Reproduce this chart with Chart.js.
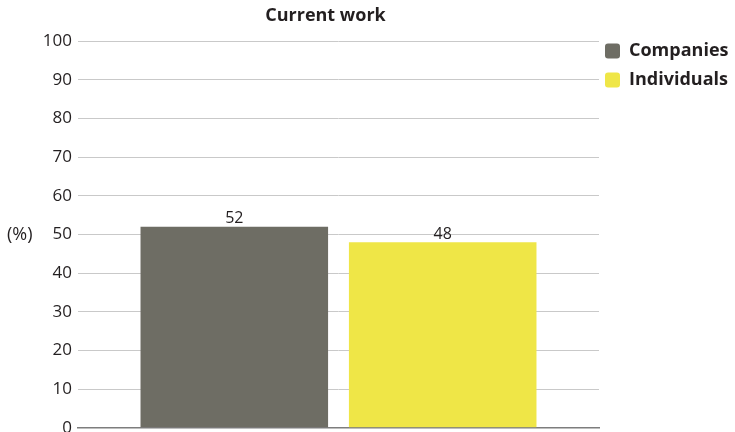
<!DOCTYPE html>
<html>
<head>
<meta charset="utf-8">
<script src="https://cdn.jsdelivr.net/npm/chart.js@4"></script>
<style>
  html, body { margin: 0; padding: 0; background: #fff; overflow: hidden; }
  #wrap { width: 735px; height: 444px; position: relative; }
</style>
</head>
<body>
<div id="wrap"><canvas id="chart"></canvas></div>
<script>
/* ===== Data ===== */
const categories = ['Current work'];
const seriesNames = ['Companies', 'Individuals'];
const companies = [52];
const individuals = [48];
const seriesColors = ['#6e6d64', '#efe647'];
const yMin = 0, yMax = 100, yStep = 10;
const titleText = 'Current work';
const unitLabel = '(%)';

const textColor = '#231f20';
const fontFamily = '"Open Sans", "Noto Sans", sans-serif';

/* ===== Legend sits a little above and left of its layout box ===== */
const legendShift = {
  id: 'legendShift',
  afterLayout(chart) {
    const lg = chart.legend;
    if (!lg) return;
    lg.top -= 10; lg.bottom -= 10;
    lg.left -= 5; lg.right -= 5;
  }
};

/* ===== Extra text: title, unit label, value labels ===== */
const extraText = {
  id: 'extraText',
  afterDraw(chart) {
    const { ctx, chartArea } = chart;
    ctx.save();
    ctx.fillStyle = textColor;

    // title
    ctx.font = 'bold 18px ' + fontFamily;
    ctx.textAlign = 'center';
    ctx.textBaseline = 'middle';
    ctx.fillText(titleText, (chartArea.left + chartArea.right) / 2 - 13, 16);

    // unit label
    ctx.font = '18px ' + fontFamily;
    ctx.textAlign = 'left';
    ctx.fillText(unitLabel, 7, (chartArea.top + chartArea.bottom) / 2);

    // value labels
    ctx.font = '16px ' + fontFamily;
    ctx.textAlign = 'center';
    ctx.textBaseline = 'bottom';
    chart.data.datasets.forEach((ds, i) => {
      chart.getDatasetMeta(i).data.forEach((bar, j) => {
        ctx.fillText(ds.data[j], bar.x, bar.y);
      });
    });
    ctx.restore();
  }
};

/* ===== Chart ===== */
new Chart(document.getElementById('chart'), {
  type: 'bar',
  data: {
    labels: categories,
    datasets: [
      { label: seriesNames[0], data: companies, backgroundColor: seriesColors[0] },
      { label: seriesNames[1], data: individuals, backgroundColor: seriesColors[1] }
    ]
  },
  options: {
    responsive: true,
    maintainAspectRatio: false,
    animation: false,
    layout: { padding: { top: 41, left: 40, right: 0, bottom: 0 } },
    plugins: {
      title: { display: false },
      tooltip: { enabled: false },
      legend: {
        position: 'right',
        align: 'start',
        maxWidth: 136,
        labels: {
          color: textColor,
          font: { family: fontFamily, size: 18, weight: 'bold' },
          boxWidth: 15,
          boxHeight: 15,
          padding: 11,
          useBorderRadius: true,
          borderRadius: 3
        }
      }
    },
    scales: {
      x: {
        ticks: { display: false },
        grid: { display: false },
        border: { display: true, color: '#7d7d7d', width: 1.5 }
      },
      y: {
        min: yMin,
        max: yMax,
        ticks: {
          stepSize: yStep,
          padding: 6,
          color: textColor,
          font: { family: fontFamily, size: 17 }
        },
        grid: { color: '#c9c9c9', lineWidth: 1, drawTicks: false },
        border: { display: false },
        afterFit(scale) { scale.width = 38; }
      }
    }
  },
  plugins: [legendShift, extraText]
});
</script>
</body>
</html>
